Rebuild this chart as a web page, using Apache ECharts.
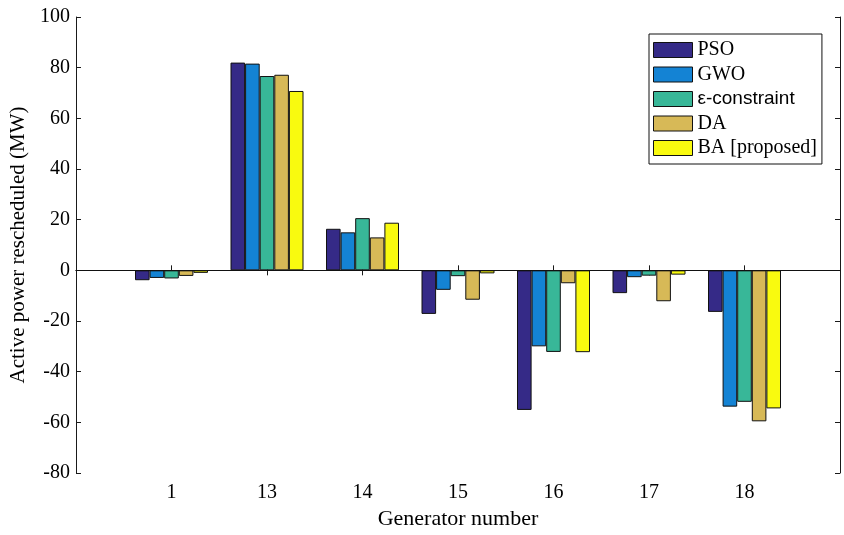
<!DOCTYPE html>
<html>
<head>
<meta charset="utf-8">
<script src="https://cdn.jsdelivr.net/npm/echarts@6/dist/echarts.min.js"></script>
<style>
  html, body { margin: 0; padding: 0; background: #fff; }
  #chart { width: 844px; height: 535px; }
</style>
</head>
<body>
<div id="chart"></div>
<script>
// Generator numbers on the x axis
const generators = ['1', '13', '14', '15', '16', '17', '18'];

// Active power rescheduled (MW) per method
const psoValues  = [-3.9, 82.0, 16.4, -17.2, -55.1,  -9.0, -16.4];
const gwoValues  = [-3.0, 81.6, 15.0,  -7.7, -30.0,  -2.7, -53.8];
const epsValues  = [-3.2, 76.7, 20.6,  -2.3, -32.2,  -2.1, -51.9];
const daValues   = [-2.2, 77.2, 13.0, -11.6,  -5.1, -12.2, -59.6];
const baValues   = [-1.0, 70.8, 18.8,  -1.2, -32.3,  -1.7, -54.5];

const seriesNames = ['PSO', 'GWO', 'ε-constraint', 'DA', 'BA [proposed]'];
const seriesColors = ['#352A87', '#1483D4', '#38B798', '#D7B957', '#F9FA0F'];
const seriesValues = [psoValues, gwoValues, epsValues, daValues, baValues];

// y ticks
const yMin = -80, yMax = 100, yStep = 20;

// empty slots at both ends leave a margin around the groups
const axisCats = [''].concat(generators, ['']);
const pad = v => [null].concat(v, [null]);

const serif = '"Liberation Serif", "DejaVu Serif", serif';
const sans = '"Liberation Sans", Arial, sans-serif';
const axisColor = '#1a1a1a';

const series = seriesValues.map((vals, i) => {
  const s = {
    name: seriesNames[i],
    type: 'bar',
    data: pad(vals),
    barWidth: 14.6,
    barGap: '0%',
    itemStyle: { color: seriesColors[i], borderColor: '#111', borderWidth: 1 },
    emphasis: { disabled: true },
    animation: false
  };
  if (i === 0) {
    // baseline at zero
    s.markLine = {
      silent: true,
      symbol: 'none',
      label: { show: false },
      lineStyle: { color: '#111', type: 'solid', width: 1 },
      data: [{ yAxis: 0 }],
      animation: false
    };
  }
  return s;
});

const chart = echarts.init(document.getElementById('chart'), null, { renderer: 'canvas' });
chart.setOption({
  backgroundColor: '#ffffff',
  animation: false,
  grid: { left: 76, right: 4, top: 17, bottom: 59, containLabel: false },
  legend: {
    left: 649,
    top: 34,
    orient: 'vertical',
    icon: 'rect',
    itemWidth: 39,
    itemHeight: 15,
    itemGap: 4.5,
    padding: [6, 5, 6, 4],
    borderColor: '#111',
    borderWidth: 1,
    backgroundColor: '#fff',
    data: seriesNames,
    itemStyle: { borderColor: '#111', borderWidth: 1 },
    formatter: name => name.startsWith('ε') ? '{s|' + name + '}' : '{t|' + name + '}',
    textStyle: {
      color: '#000',
      lineHeight: 20,
      rich: {
        t: { fontFamily: serif, fontSize: 20, color: '#000', lineHeight: 20 },
        s: { fontFamily: sans, fontSize: 19, color: '#000', lineHeight: 20 }
      }
    }
  },
  xAxis: [
    {
      type: 'category',
      data: axisCats,
      boundaryGap: false,
      position: 'bottom',
      name: 'Generator number',
      nameLocation: 'middle',
      nameGap: 35,
      nameTextStyle: { fontFamily: serif, fontSize: 22, color: '#000' },
      axisLine: { show: true, lineStyle: { color: axisColor, width: 1 } },
      axisTick: { show: true, inside: true, length: 5, lineStyle: { color: axisColor } },
      axisLabel: { fontFamily: serif, fontSize: 20, color: '#000', margin: 10, interval: 0 },
      splitLine: { show: false }
    },
    {
      type: 'category',
      data: axisCats,
      boundaryGap: false,
      position: 'top',
      axisLine: { show: true, lineStyle: { color: axisColor, width: 1 } },
      axisTick: { show: true, inside: true, length: 5, lineStyle: { color: axisColor } },
      axisLabel: { show: false },
      splitLine: { show: false }
    }
  ],
  yAxis: [
    {
      type: 'value',
      min: yMin, max: yMax, interval: yStep,
      position: 'left',
      name: 'Active power rescheduled (MW)',
      nameLocation: 'middle',
      nameGap: 45,
      nameTextStyle: { fontFamily: serif, fontSize: 21, color: '#000' },
      axisLine: { show: true, lineStyle: { color: axisColor, width: 1 } },
      axisTick: { show: true, inside: true, length: 5, lineStyle: { color: axisColor } },
      axisLabel: { fontFamily: serif, fontSize: 20, color: '#000', margin: 6 },
      splitLine: { show: false }
    },
    {
      type: 'value',
      min: yMin, max: yMax, interval: yStep,
      position: 'right',
      axisLine: { show: true, lineStyle: { color: axisColor, width: 1 } },
      axisTick: { show: true, inside: true, length: 5, lineStyle: { color: axisColor } },
      axisLabel: { show: false },
      splitLine: { show: false }
    }
  ],
  series: series
});
</script>
</body>
</html>
